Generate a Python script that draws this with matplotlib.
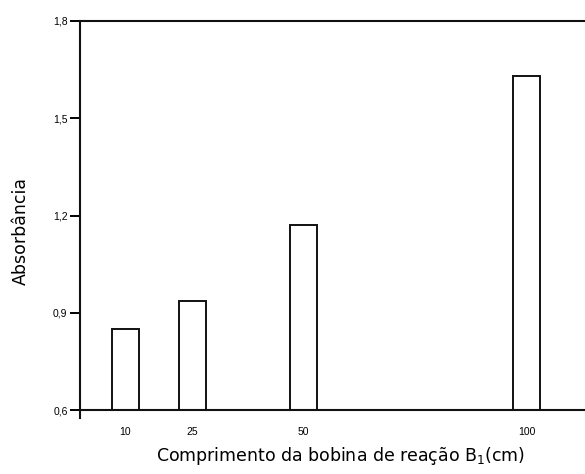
import matplotlib
matplotlib.use("Agg")
import matplotlib.pyplot as plt

# comprimento da bobina (cm) e absorbância medida
comprimento = [10, 25, 50, 100]
absorbancia = [0.85, 0.935, 1.17, 1.63]
y_ticks = [0.6, 0.9, 1.2, 1.5, 1.8]
y_tick_labels = ["0,6", "0,9", "1,2", "1,5", "1,8"]

plt.rcParams["font.family"] = ["Liberation Sans", "DejaVu Sans"]
plt.rcParams["mathtext.fontset"] = "dejavusans"

fig = plt.figure(figsize=(5.85, 4.74), dpi=100)
ax = fig.add_axes([80 / 585, 64 / 474, 505 / 585, 389 / 474])

ax.bar(comprimento, [v - 0.6 for v in absorbancia], bottom=0.6, width=6,
       facecolor="white", edgecolor="#111111", linewidth=1.4)

ax.set_xlim(-0.2, 113.1)
ax.set_ylim(0.6, 1.8)
ax.set_xticks(comprimento)
ax.set_xticklabels([str(c) for c in comprimento], fontsize=7.5)
ax.set_yticks(y_ticks)
ax.set_yticklabels(y_tick_labels, fontsize=7.5)
ax.tick_params(axis="x", length=0, pad=12)
ax.tick_params(axis="y", length=7, width=1.4, pad=2, direction="out")

for side in ["left", "bottom", "top"]:
    ax.spines[side].set_linewidth(1.5)
    ax.spines[side].set_color("#111111")
ax.spines["right"].set_visible(False)
ax.spines["left"].set_bounds(0.575, 1.8)

label_font = {"family": "DejaVu Sans", "size": 12.5}
ax.set_ylabel("Absorbância", fontdict=label_font)
ax.set_xlabel("Comprimento da bobina de reação B$_1$(cm)", fontdict=label_font)
ax.yaxis.set_label_coords(-0.10, 0.46)
ax.xaxis.set_label_coords(0.515, -0.09)

fig.savefig("out.png", dpi=100)
